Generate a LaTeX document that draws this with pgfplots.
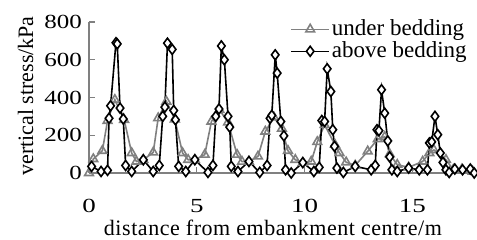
\documentclass[border=0pt]{standalone}
\usepackage{fontspec}
\setmainfont{Liberation Serif}
\newfontfamily\labelfont[LetterSpace=2.5]{Liberation Serif}
\usepackage{graphicx}
\usepackage{pgfplots}
\pgfplotsset{compat=1.18}
\definecolor{greyline}{RGB}{128,128,128}
\pgfplotstableread{
x y
0 0
0.20 74
0.62 118
0.86 277
1.20 388
1.63 282
1.98 106
2.20 61
2.52 70
2.98 109
3.21 291
3.59 379
3.98 285
4.34 106
4.60 70
4.91 70
5.37 97
5.68 273
6.05 335
6.45 268
6.87 97
7.10 60
7.42 61
7.84 88
8.18 220
8.58 295
8.95 235
9.23 118
9.57 70
9.92 55
10.31 61
10.59 165
10.93 255
11.41 150
11.62 106
11.93 57
12.35 40
12.93 115
13.40 180
13.72 192
13.95 100
14.30 44
14.83 30
15.48 61
15.79 106
16.00 122
16.56 70
16.90 18
17.30 20
17.80 8
}\under
\pgfplotstableread{
x y
0.12 35
0.56 8
0.86 14
0.93 290
1.00 356
1.25 690
1.31 684
1.44 344
1.59 286
1.70 40
1.98 8
2.52 70
2.98 8
3.26 40
3.42 300
3.52 349
3.64 688
3.86 655
3.93 331
4.01 282
4.16 35
4.49 8
4.91 70
5.52 3
5.75 40
5.88 300
6.03 339
6.14 673
6.28 600
6.45 300
6.53 243
6.60 35
6.91 8
7.42 61
7.92 3
8.26 40
8.40 290
8.48 305
8.64 626
8.73 529
8.90 273
9.04 197
9.12 17
9.38 0
9.92 55
10.43 8
10.68 30
10.80 278
10.93 273
11.05 552
11.22 432
11.31 229
11.39 141
11.50 26
11.80 3
12.35 35
13.09 17
13.28 40
13.36 229
13.45 224
13.57 441
13.72 317
13.86 170
13.95 85
14.05 17
14.30 8
14.83 26
15.32 17
15.70 17
15.79 159
15.90 165
16.05 300
16.18 203
16.30 106
16.42 56
16.56 17
16.71 3
16.97 21
17.33 17
17.69 21
17.87 0
}\above
\begin{document}
\begin{tikzpicture}
\path[use as bounding box] (-44.5pt,-33.5pt) rectangle (194pt,86.5pt);
\begin{axis}[
  at={(0,0)}, anchor=south west,
  scale only axis, width=194pt, height=75.5pt,
  xmin=0, xmax=18, ymin=0, ymax=800,
  axis x line=bottom, axis y line=left,
  axis line style={greyline, -, line width=0.7pt},
  tick style={greyline, line width=0.7pt},
  major tick length=3pt,
  tick align=inside,
  xtick={0,5,10,15}, ytick={0,200,400,600,800},
  /pgf/number format/assume math mode=true,
  tick label style={font=\fontsize{10}{12}\selectfont},
  yticklabel={\scalebox{1.25}[1]{\pgfmathprintnumber{\tick}}},
  xticklabel={\scalebox{1.35}[1]{\pgfmathprintnumber{\tick}}},
  xticklabel style={yshift=-9.5pt},
  xlabel={distance from embankment centre/m},
  ylabel={vertical stress/kPa},
  label style={font=\labelfont\fontsize{11}{13}\selectfont, inner sep=0pt},
  xlabel style={at={(axis description cs:0.474,-0.311)}, anchor=north},
  ylabel style={at={(axis description cs:-0.144,0.51)}, anchor=base, font=\fontsize{11}{13}\selectfont},
  clip=false,
  legend style={at={(0.518,1.027)}, anchor=north west, draw=none, fill=none,
    font=\fontsize{11.5}{12}\selectfont, cells={anchor=west}, inner sep=0pt,
    row sep=0pt,
    nodes={inner sep=1pt, text height=7.5pt, text depth=1.5pt}},
  legend image code/.code={
    \draw[mark repeat=2, mark phase=2] plot coordinates {(0pt,0pt) (9.5pt,0pt) (19pt,0pt)};
  },
]
\addplot[greyline, line width=0.8pt, mark=triangle, mark size=2.5pt,
  mark options={line width=0.8pt, fill=white}] table {\under};
\addlegendentry[xshift=-9pt]{under bedding}
\addplot[black, line width=0.8pt, mark=diamond*, mark size=2.5pt,
  mark options={line width=0.8pt, fill=white}] table {\above};
\addlegendentry[xshift=-9pt]{above bedding}
\end{axis}
\end{tikzpicture}
\end{document}
